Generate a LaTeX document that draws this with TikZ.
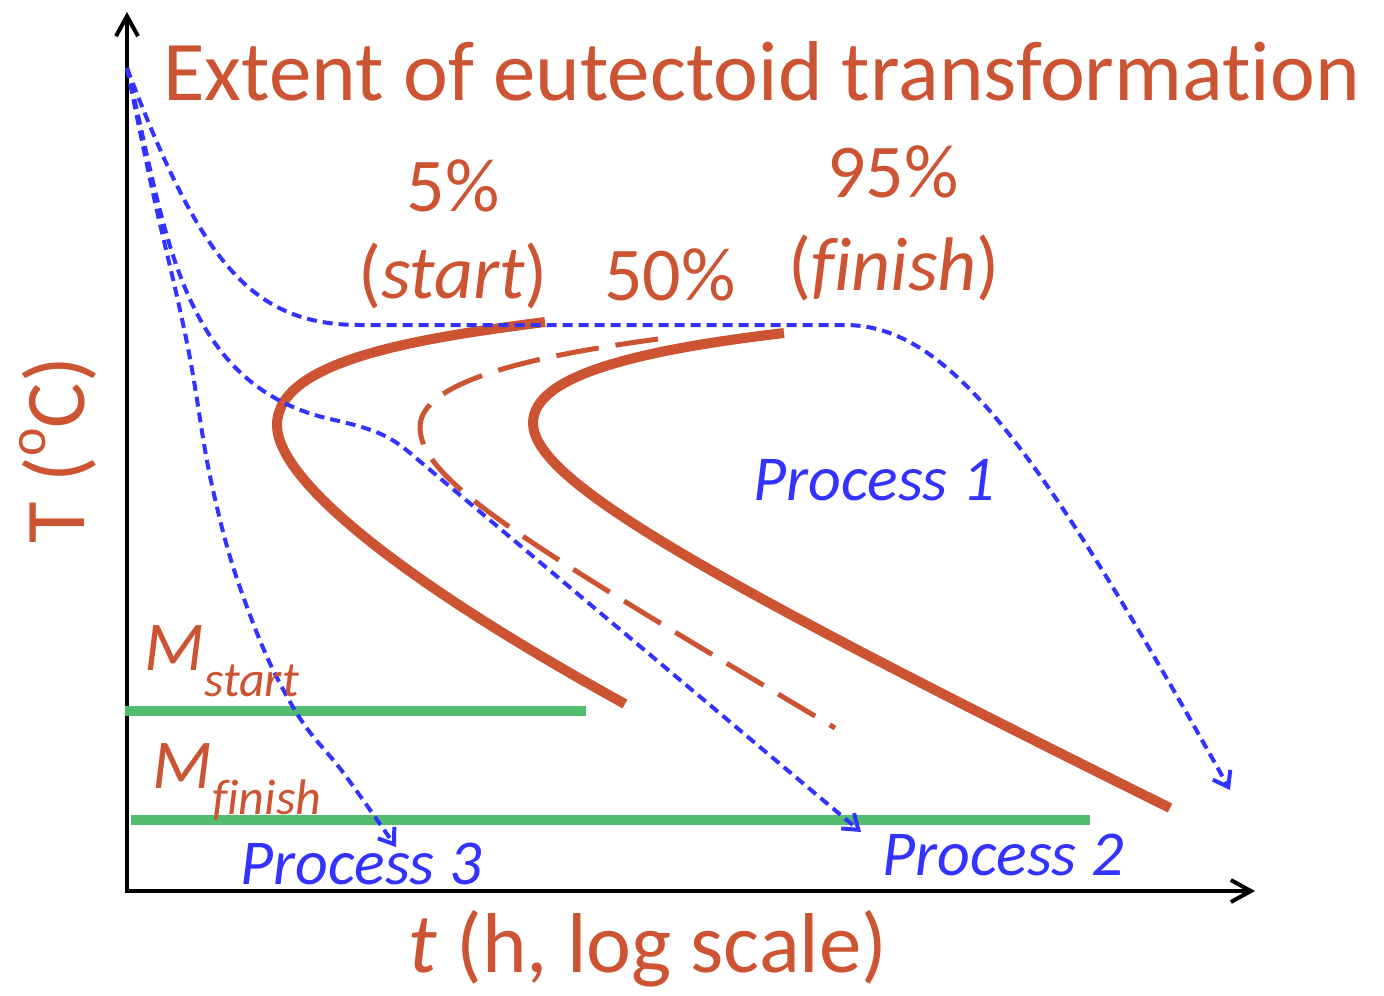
\documentclass[tikz,border=0pt]{standalone}
\usepackage{fontspec}
\setmainfont[Ligatures=NoCommon]{Carlito}
\usetikzlibrary{arrows.meta}
\definecolor{rust}{RGB}{204,84,51}
\definecolor{pblue}{RGB}{51,51,255}
\definecolor{mgreen}{RGB}{82,189,110}
\tikzset{
  lbl/.style={text=rust, inner sep=0pt, font=\fontsize{38}{44}\selectfont},
  plbl/.style={text=pblue, inner sep=0pt, font=\fontsize{32}{37}\selectfont\itshape},
  ttt/.style={rust, line width=5pt, line cap=butt},
  half/.style={rust, line width=2.5pt, dash pattern=on 21.5pt off 8.5pt},
  proc/.style={pblue, line width=2pt, dash pattern=on 5pt off 3pt, -{Straight Barb[length=7pt,width=10pt]}},
  axis/.style={black, line width=2pt, -{Straight Barb[length=10pt,width=11pt]}},
  mline/.style={mgreen, line width=5pt},
}
\begin{document}
\begin{tikzpicture}[x=0.5pt,y=-0.5pt]
\useasboundingbox (0,0) rectangle (1384,995);
% axes
\coordinate (O) at (127,891);
\coordinate (ytop) at (127,12);
\coordinate (xend) at (1255,891);
\draw[axis] (127,893) -- (ytop);
\draw[axis] (125,891) -- (xend);
% martensite lines
\coordinate (ms1) at (125,711); \coordinate (ms2) at (586,711);
\coordinate (mf1) at (131,820); \coordinate (mf2) at (1090,820);
\draw[mline] (ms1) -- (ms2);
\draw[mline] (mf1) -- (mf2);
% transformation curves
\draw[ttt] (545,322) .. controls (420,338) and (277,360) .. (277,425)
               .. controls (277,480) and (400,580) .. (625,704);
\draw[half] (658,339) .. controls (540,355) and (420,380) .. (420,427)
               .. controls (420,480) and (520,540) .. (835,728);
\draw[ttt] (784,333) .. controls (640,350) and (533,375) .. (533,423)
               .. controls (533,480) and (700,575) .. (1170,808);
% cooling paths
\coordinate (start) at (127,68);
\coordinate (p1) at (1230,790);
\coordinate (p2) at (861,832);
\coordinate (p3) at (396,847);
\draw[proc] (start) .. controls (200,260) and (250,325) .. (360,325) -- (845,325) .. controls (950,325) and (1040,450) .. (p1);
\draw[proc] (start) to[out=-76,in=167] (330,419) .. controls (375,429) and (390,436) .. (410,453) -- (p2);
\draw[proc] plot[smooth, tension=0.7] coordinates {(127,68) (153,193) (187,343) (213,490) (247,607) (293,707) (345,775) (p3)};
% texts
\node[lbl, anchor=base west, font=\fontsize{42.5}{50}\selectfont] (title) at (163,100) {Extent of eutectoid transformation};
\node[lbl, anchor=base] (s5) at (453,211) {5\%};
\node[lbl, anchor=base] (s5b) at (453,298) {(\textit{start})};
\node[lbl, anchor=base] (s50) at (670,300) {50\%};
\node[lbl, anchor=base] (s95) at (893,197) {95\%};
\node[lbl, anchor=base] (s95b) at (894,290) {(\textit{finish})};
\node[plbl, anchor=base] (pr1) at (874,500) {Process 1};
\node[plbl, anchor=base] (pr2) at (1003,875) {Process 2};
\node[plbl, anchor=base] (pr3) at (361,884) {Process 3};
\node[lbl, anchor=base west, font=\fontsize{35}{40}\selectfont] (mst) at (144,670) {\textit{M}\raisebox{-0.38em}{\fontsize{25}{28}\selectfont\textit{start}}};
\node[lbl, anchor=base west, font=\fontsize{35}{40}\selectfont] (mfi) at (152,788) {\textit{M}\raisebox{-0.38em}{\fontsize{25}{28}\selectfont\textit{finish}}};
\node[lbl, anchor=base, font=\fontsize{42.5}{48}\selectfont] (xl) at (648,972) {\textit{t} (h, log scale)};
\node[lbl, anchor=base, rotate=90, font=\fontsize{42.5}{48}\selectfont] (yl) at (84,450) {T (\raisebox{0.45em}{\fontsize{27}{30}\selectfont o}C)};
\end{tikzpicture}
\end{document}
